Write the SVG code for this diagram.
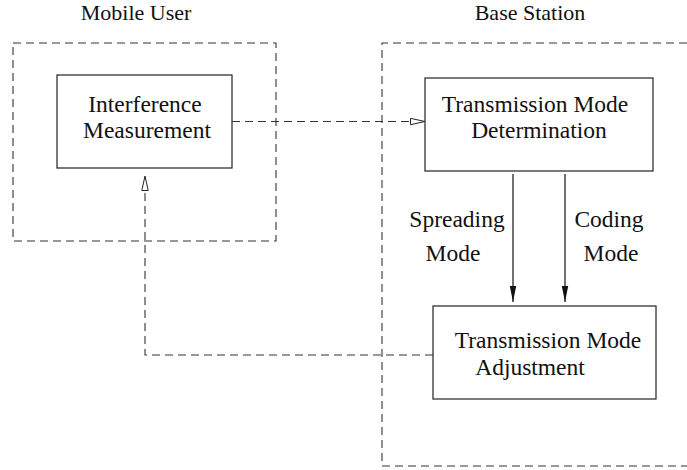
<svg xmlns="http://www.w3.org/2000/svg" width="687" height="470" viewBox="0 0 687 470">
  <style>
    text { font-family: "Liberation Serif", "Times New Roman", serif; font-size: 23.5px; fill: #111; text-anchor: middle; }
    .title { font-size: 22px; }
    .box { fill: none; stroke: #222; stroke-width: 1.2; }
    .region { fill: none; stroke: #333; stroke-width: 1.1; stroke-dasharray: 8 5; }
    .dash { fill: none; stroke: #333; stroke-width: 1.1; stroke-dasharray: 8 5; }
    .solid { fill: none; stroke: #111; stroke-width: 1.2; }
  </style>
  <defs>
    <marker id="hollow" markerWidth="16" markerHeight="8" refX="15" refY="4" orient="auto" markerUnits="userSpaceOnUse">
      <path d="M0.5,0.8 L15,4 L0.5,7.2 Z" fill="#fff" stroke="#222" stroke-width="1"/>
    </marker>
    <marker id="filled" markerWidth="16" markerHeight="8" refX="16" refY="4" orient="auto" markerUnits="userSpaceOnUse">
      <path d="M0,0.8 L16,4 L0,7.2 Z" fill="#111"/>
    </marker>
  </defs>

  <!-- regions -->
  <g id="mobile-user">
    <rect class="region" x="13" y="43" width="263" height="198"/>
    <text class="title" x="136" y="20">Mobile User</text>
  </g>
  <g id="base-station">
    <path class="region" d="M700,43 H382 V466 H700"/>
    <text class="title" x="530" y="20">Base Station</text>
  </g>

  <!-- blocks -->
  <g id="interference-measurement">
    <rect class="box" x="57" y="75" width="175" height="93"/>
    <text x="145" y="112">Interference</text>
    <text x="147" y="138">Measurement</text>
  </g>
  <g id="mode-determination">
    <rect class="box" x="425" y="78" width="228" height="93"/>
    <text x="535" y="112">Transmission Mode</text>
    <text x="539" y="138">Determination</text>
  </g>
  <g id="mode-adjustment">
    <rect class="box" x="433" y="306" width="223" height="93"/>
    <text x="548" y="348">Transmission Mode</text>
    <text x="530" y="375">Adjustment</text>
  </g>

  <!-- connectors -->
  <g id="connectors">
    <path class="dash" d="M232,121.5 H425" marker-end="url(#hollow)"/>
    <path class="dash" d="M433,355 H145 V176" marker-end="url(#hollow)"/>
    <path class="solid" d="M513,174 V302" marker-end="url(#filled)"/>
    <path class="solid" d="M565,174 V302" marker-end="url(#filled)"/>
    <text x="457" y="227">Spreading</text>
    <text x="453" y="261">Mode</text>
    <text x="609" y="227">Coding</text>
    <text x="611" y="261">Mode</text>
  </g>
</svg>
